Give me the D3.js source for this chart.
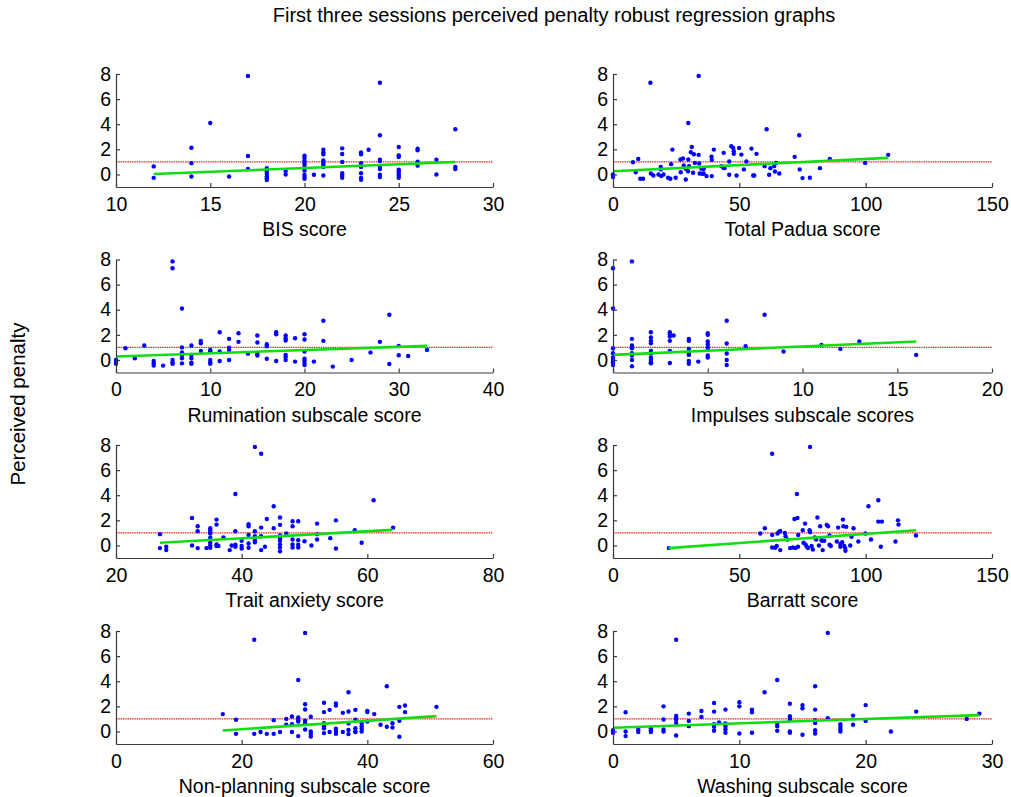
<!DOCTYPE html>
<html><head><meta charset="utf-8">
<script src="https://cdn.jsdelivr.net/npm/d3@7"></script>
<style>
body{margin:0;background:#fff}
svg{display:block}
text{font-family:"Liberation Sans",Arial,sans-serif;fill:#000}
</style>
</head><body>
<svg id="c" width="1011" height="797"></svg>
<script>
const title = "First three sessions perceived penalty robust regression graphs";
const yLabel = "Perceived penalty";
const threshold = 1;
const yDomain = [-1, 8];
const yTicks = [0, 2, 4, 6, 8];

const xLabels = ["BIS score", "Total Padua score", "Rumination subscale score", "Impulses subscale scores",
  "Trait anxiety score", "Barratt score", "Non-planning subscale score", "Washing subscale score"];
const xDomains = [[10,30],[0,150],[0,40],[0,20],[20,80],[0,150],[0,60],[0,30]];
const xTickLists = [[10,15,20,25,30],[0,50,100,150],[0,10,20,30,40],[0,5,10,15,20],
  [20,40,60,80],[0,50,100,150],[0,20,40,60],[0,10,20,30]];

const bisPoints = [[12,0.64],[12,-0.27],[14,2.13],[14,0.9],[14,-0.16],[15,4.1],[16,-0.16],[17,7.85],[17,1.47],[17,0.43],
  [18,0.5],[18,0.25],[18,0.05],[18,-0.15],[18,-0.3],[18,-0.45],[19,0.27],[19,0],
  [20,1.5],[20,1.33],[20,1.1],[20,0.93],[20,0.77],[20,0.53],[20,0.32],[20,-0.03],[20,-0.2],[20,-0.35],[20.5,-0.03],
  [21,1.97],[21,1.76],[21,1.6],[21,1.12],[21,0.96],[21,0.8],[21,0.6],[21,-0.08],
  [22,2.08],[22,1.63],[22,0.99],[22,0.1],[22,-0.08],[22,-0.27],
  [23,1.76],[23,1.6],[23,0.9],[23,0.6],[23,0.1],[23,-0.27],[23,-0.43],[23.4,1.97],
  [24,7.3],[24,3.12],[24,1.17],[24,1.07],[24,0.6],[24,0.43],[24,-0.03],[24,-0.2],
  [25,2.19],[25,1.52],[25,1.39],[25,0.37],[25,0.24],[25,0.05],[25,-0.1],[25,-0.27],
  [26,2.05],[26,1.92],[26,1.01],[26,0.7],[27,1.17],[27,0],[28,3.6],[28,0.59],[28,0.43]];
const bisFit = [[12,0.03],[28,0.99]];

const paduaPoints = [[0,0],[0,-0.2],[0,-0.1],[7.9,0.97],[9,0.18],[10,1.24],[10.8,-0.34],[11.9,-0.34],[14.8,7.3],[15,0.08],
  [16,-0.08],[18,0],[18.9,0.6],[18.9,0.4],[19.1,-0.13],[20,0],[21.8,-0.26],[22.7,-0.34],[23.5,1.98],[23,0.82],
  [24.8,-0.26],[26.7,1.19],[27.7,1.27],[28,0.71],[26.8,0.18],[28.8,0.45],[28.8,-0.4],[29.7,0.26],[29.8,4.1],[29.8,1.19],
  [30.1,0.66],[30.8,1.77],[31.2,2.19],[31.7,0.13],[32,1.61],[32.4,0.92],[33.9,7.85],[33.9,1.56],[34.1,0.87],[34.3,0.08],
  [35,0.45],[35.4,0.05],[35.9,0.45],[35.9,0.08],[37,-0.13],[39,1.42],[39.1,1.16],[39.1,-0.13],[39.9,1.98],[42.9,0.66],
  [43.6,0.55],[43.8,1.72],[44.1,0.5],[46,1.03],[46,-0.03],[46.8,2.24],[47.6,2.11],[47.8,1.85],[47.8,1.64],[48.9,-0.08],
  [49.9,2.11],[50.8,1.58],[51.8,0.4],[52.8,1.03],[54.8,2.06],[55.5,-0.08],[55.9,-0.08],[56.8,1.64],[60,0.66],[60.8,3.6],
  [61.8,-0.03],[62.3,0.5],[63.8,0.66],[64.1,0.24],[64.5,0.92],[65.8,0.08],[71.9,1.4],[73.7,3.12],[73.9,0.4],[75,-0.29],
  [77.9,-0.26],[81.9,0.5],[85.8,1.24],[99.8,0.92],[108.9,1.56]];
const paduaFit = [[0,0.26],[109,1.32]];

const ruminationPoints = [[0,0],[0,-0.3],[0,-0.13],[1,0.93],[2,0.13],[3,1.15],[4,-0.08],[4,-0.27],[4,-0.45],[5,-0.45],
  [6,7.85],[6,7.3],[6,0],[6,-0.2],[6,-0.3],[7,4.1],[7,1.0],[7,0.6],[7,0.4],[7,0.13],[7,-0.27],
  [8,1.15],[8,0.4],[8,0.13],[8,-0.22],[8,-0.3],[9,1.52],[9,1.33],[9,0.72],
  [10,0.8],[10,0.67],[10,0],[10,-0.2],[10,-0.3],[11,2.2],[11,0.67],[11,-0.08],
  [12,1.68],[12,0.98],[12,0.8],[12,0],[13,2.13],[13,1.44],[14,0.5],
  [15,1.95],[15,1.39],[15,0.5],[15,0.35],[16,1.25],[16,1.09],[16,0.1],[17,2.2],[17,2.05],[17,-0.08],
  [18,1.95],[18,1.73],[18,1.55],[18,0.4],[18,0.24],[18,0],[19,1.73],[19,-0.13],
  [20,2.05],[20,1.63],[20,0.67],[20,0.1],[20,-0.05],[20,-0.24],[20,-0.4],[21,-0.13],[22,3.12],[22,1.52],
  [23,-0.53],[25,0],[27,0.6],[28,1.44],[29,3.6],[29,-0.32],[30,1.12],[30,0.37],[31,0.32],[33,0.8]];
const ruminationFit = [[0,0.27],[33,1.12]];

const impulsesPoints = [[0,7.3],[0,4.1],[0,0.93],[0,0.53],[0,0.19],[0,0],[0,-0.19],[0,-0.4],
  [1,7.85],[1,1.68],[1,1.15],[1,0.93],[1,0.53],[1,0.35],[1,0],[1,-0.5],
  [2,2.2],[2,1.79],[2,1.52],[2,1.33],[2,0.72],[2,0.53],[2,0.19],[2,0],[2,-0.19],[2,-0.27],
  [3,2.2],[3,2.05],[3,1.87],[3,1.52],[3,0.72],[3,-0.24],[3.2,1.95],
  [4,1.68],[4,1.52],[4,0.88],[4,0.53],[4,0.4],[4,-0.08],[4,-0.3],[4.5,-0.13],
  [5,2.13],[5,2.0],[5,1.47],[5,1.25],[5,0.99],[5,0.8],[5,0.35],[5,0.19],
  [6,3.12],[6,1.31],[6,0.51],[6,0],[6,-0.4],[7,1.09],[8,3.6],[9,0.67],[11,1.2],[12,0.88],[13,1.47],[16,0.4]];
const impulsesFit = [[0,0.4],[16,1.47]];

const traitPoints = [[27,0.9],[27,-0.21],[28,-0.1],[28,-0.37],[32.1,2.19],[32.1,0],[33,1.53],[33,1.13],[33,-0.21],[34.4,-0.21],
  [35,1.37],[35,1.21],[35,1.06],[35,0.95],[35,0.61],[35,0.21],[35,0],[35,-0.18],
  [36,2.06],[36,1.66],[36,0.08],[36,-0.05],[36.3,-0.05],[37.1,0.63],[38.1,-0.37],[38.4,0],
  [39,4.1],[39,1.13],[39,0.05],[39,-0.1],[40,0.37],[40,-0.05],[40,-0.24],
  [41.1,1.69],[41.1,1.53],[41.1,0.84],[41.1,0.16],[41.1,-0.18],
  [42.1,7.85],[42.1,1.13],[42.1,0.74],[42.1,0.42],[42.1,0.26],[43.1,7.3],[43.1,1.42],[43.1,0.74],[43.1,-0.37],[43.7,-0.1],
  [44,2.11],[45.1,3.12],[45.1,1.37],
  [46.1,2.22],[46.1,1.64],[46.1,0.79],[46.1,0.58],[46.1,0.37],[46.1,0.08],[46.1,-0.16],[46.1,-0.47],[47.1,0.95],
  [48.1,1.53],[48.1,1.93],[48.1,0.47],[48.1,0.08],[48.1,-0.16],[49,1.93],[49,0.42],[49,0.05],[49,-0.16],[50,0.34],[51.1,0],
  [52,1.74],[52,0.9],[52,0.47],[54.1,0.58],[55,2.0],[55,-0.24],[58,1.21],[59.1,0.21],[61,3.6],[64.1,1.42]];
const traitFit = [[27,0.21],[64,1.24]];

const barrattPoints = [[22.1,-0.21],[58.3,0.95],[60.1,1.37],[63,7.3],[63,0.84],[63,-0.16],[64.2,-0.18],[64.8,-0.05],[65.1,0.95],[65.6,1.06],
  [66.2,-0.37],[66.2,1.16],[68,1.0],[68.3,0.74],[69,0.47],[70.1,-0.21],[71.2,-0.16],[71.8,2.11],[72.2,-0.21],[72.8,4.1],
  [73,2.19],[73.3,0.84],[73.2,-0.1],[75.1,1.21],[75.4,0.21],[76,1.74],[76.2,0.08],[76.7,-0.1],[77.2,-0.21],[77.8,1.21],
  [78,7.85],[78,1.06],[78.6,-0.05],[79.1,-0.32],[79.9,0.63],[80.4,0.47],[80.9,2.22],[81.5,0],[82,1.53],[82.5,0.42],
  [82.8,0.37],[83,-0.37],[83.6,0.37],[84.6,1.64],[85.1,1.53],[85.7,0.79],[85.7,0.05],[86.2,-0.05],[88.6,0.32],[89.1,1.42],
  [90,0.11],[90,-0.1],[90.7,0.26],[91,2.06],[91.2,1.53],[91.5,-0.05],[91.9,-0.21],[92,-0.42],[92.3,1.48],[93.9,0],
  [94.4,0.69],[95.2,1.37],[97.1,0.32],[99.9,0.95],[101.1,3.12],[102.1,0.47],[105,3.6],[105,1.9],[106,-0.1],[106.4,1.9],
  [111.8,0.32],[112.8,2.0],[113,1.66],[119.9,0.79]];
const barrattFit = [[22,-0.21],[120,1.21]];

const nonPlanningPoints = [[17,1.38],[19.1,0.93],[19.1,-0.19],[22,7.3],[22,-0.19],[23,-0.05],[24,-0.19],[25.1,0.9],[25.1,-0.19],[26.1,-0.05],
  [27.1,1.0],[27.1,0.53],[28,1.19],[28,0.58],[28,-0.05],[29,4.1],[29,1.11],[29,0.9],[29,0.79],[29,-0.37],
  [30.1,7.85],[30.1,2.17],[30.1,1.75],[30.1,0.85],[30.1,0.66],[30.1,0.16],[31,1.17],[31,0],[31,-0.21],[31,-0.4],
  [33.1,2.28],[33.1,1.54],[33.1,0.66],[33.1,0.42],[33.1,0.26],[33.1,-0.13],[34,1.72],[34,-0.05],
  [35,2.23],[35,2.07],[35,0.21],[35,0],[35,-0.19],[36.1,1.48],[36.1,-0.05],
  [37,3.12],[37,1.59],[37,0.64],[37,0.11],[37,-0.21],[38.1,1.72],[38.1,0.93],[38.1,0.26],[38.1,0],[38.1,-0.05],
  [39.1,0.66],[39.1,0.42],[39.1,0.21],[39.1,0],[40,1.64],[40,1.54],[40,0.79],[41.1,1.38],[42.1,0.53],
  [43.1,3.6],[43.1,0.37],[44,0.66],[44,0.32],[45.1,1.96],[45.1,0.85],[45.1,-0.42],[46,2.07],[46,1.54],[51,1.96]];
const nonPlanningFit = [[17,0.08],[51,1.22]];

const washingPoints = [[0,0.1],[0,-0.1],[1,1.53],[1,0],[1,-0.37],[2,0.16],[2,-0.05],[3,0.26],[3,0.1],[3,-0.05],
  [4,2.0],[4,0.95],[4,0.16],[4,0],[5,7.3],[5,1.24],[5,1.1],[5,0.95],[5,0.68],[5,-0.32],
  [6,1.42],[6,0.84],[6,0.42],[7,1.63],[7,1.16],[8,2.26],[8,1.58],[8,0.58],[8,0.37],[8,0.05],[8.4,0.71],
  [8.9,1.74],[8.9,0.63],[8.9,0.42],[8.9,0.16],[8.9,-0.1],[10,2.32],[10,2.0],[10,-0.16],[11,1.74],[11,1.53],[11,-0.1],
  [12,3.12],[13,4.1],[13,0.63],[13,0.42],[13,0.05],[14,2.21],[14,1.21],[14,1.0],[14,0.9],[14,0],[14,-0.1],
  [15,2.1],[15,1.84],[15,-0.26],[16,3.6],[16,1.74],[16,0.9],[16,0.68],[16,0.1],[16,-0.16],[17,7.85],[17,1.05],
  [18,0.58],[18,0.37],[18,0.16],[18,0],[19,1.26],[19,0.53],[20,2.1],[20,0.84],[22,0],[24,1.58],[28,1.0],[29,1.42]];
const washingFit = [[0,0.3],[29,1.3]];

const pointSets = [bisPoints, paduaPoints, ruminationPoints, impulsesPoints, traitPoints, barrattPoints, nonPlanningPoints, washingPoints];
const fitSets = [bisFit, paduaFit, ruminationFit, impulsesFit, traitFit, barrattFit, nonPlanningFit, washingFit];

// layout
const cols = [[116, 493], [613, 992]];
const rowTops = [74, 259.5, 445, 631];
const H = 113;
const tickFont = 19.5, labelFont = 19.5;

const svg = d3.select("#c");
svg.append("rect").attr("width", 1011).attr("height", 797).attr("fill", "#fff");

svg.append("text").attr("x", 554).attr("y", 22).attr("text-anchor", "middle")
  .style("font-size", "20px").text(title);
svg.append("text").attr("transform", "translate(25,404) rotate(-90)").attr("text-anchor", "middle")
  .style("font-size", "20.5px").text(yLabel);

xLabels.forEach((lab, i) => {
  const c = cols[i % 2], top = rowTops[Math.floor(i / 2)];
  const x = d3.scaleLinear().domain(xDomains[i]).range(c);
  const y = d3.scaleLinear().domain(yDomain).range([top + H, top]);
  const g = svg.append("g");

  // threshold line
  g.append("line")
    .attr("x1", x(xDomains[i][0])).attr("x2", x(xDomains[i][1]))
    .attr("y1", y(threshold)).attr("y2", y(threshold))
    .attr("stroke", "#ee2222").attr("stroke-width", 1.2).attr("stroke-dasharray", "1.5,0.8");

  // points
  g.selectAll("circle").data(pointSets[i]).join("circle")
    .attr("cx", d => x(d[0])).attr("cy", d => y(d[1])).attr("r", 2.2).attr("fill", "#0000ff");

  // robust fit line
  g.append("line")
    .attr("x1", x(fitSets[i][0][0])).attr("y1", y(fitSets[i][0][1]))
    .attr("x2", x(fitSets[i][1][0])).attr("y2", y(fitSets[i][1][1]))
    .attr("stroke", "#11dd11").attr("stroke-width", 2.6);

  // axes
  const gx = g.append("g").attr("transform", `translate(0,${top + H})`)
    .call(d3.axisBottom(x).tickValues(xTickLists[i]).tickSizeInner(-4).tickSizeOuter(0).tickPadding(10).tickFormat(d3.format("d")));
  const gy = g.append("g").attr("transform", `translate(${c[0]},0)`)
    .call(d3.axisLeft(y).tickValues(yTicks).tickSizeInner(-4).tickSizeOuter(0).tickPadding(5).tickFormat(d3.format("d")));
  [gx, gy].forEach(a => {
    a.attr("font-family", null).attr("font-size", null);
    a.selectAll("path,line").attr("stroke", "#3a3a3a").attr("stroke-width", 1.2);
    a.selectAll("text").style("font-size", tickFont + "px").attr("fill", "#000");
  });

  g.append("text").attr("x", (c[0] + c[1]) / 2).attr("y", top + H + 49)
    .attr("text-anchor", "middle").style("font-size", labelFont + "px").text(lab);
});
</script>
</body></html>
